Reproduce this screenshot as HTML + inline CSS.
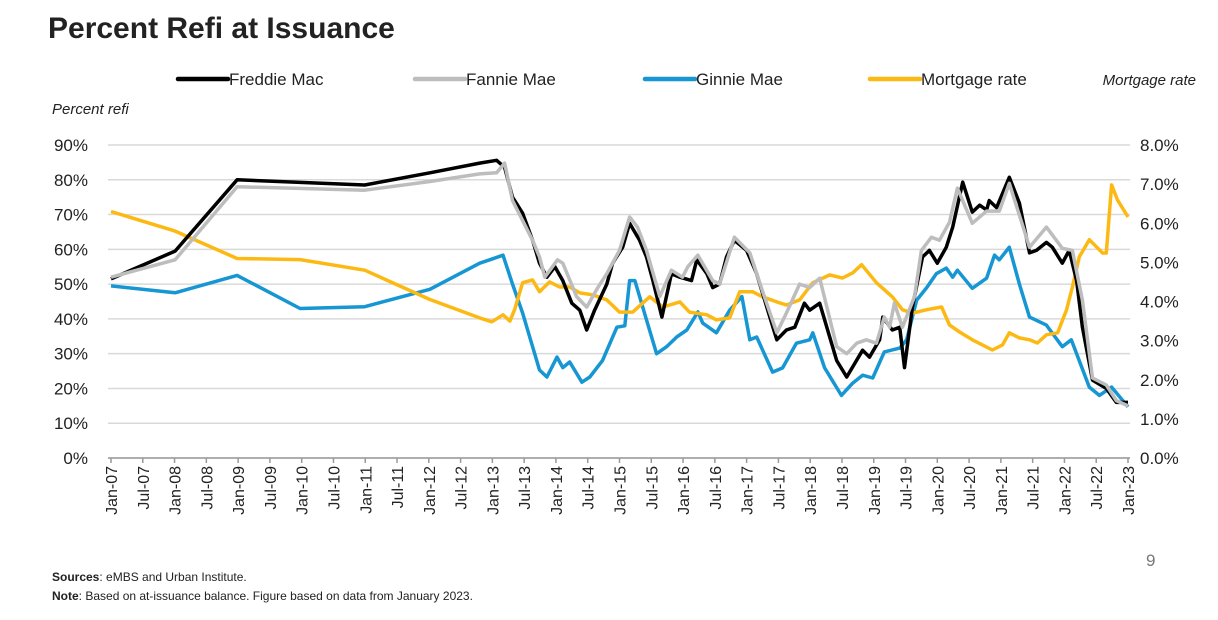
<!DOCTYPE html>
<html><head><meta charset="utf-8"><style>
body{margin:0;width:1218px;height:620px;background:#fff;font-family:"Liberation Sans",sans-serif;color:#222;overflow:hidden;position:relative}
.t{position:absolute;white-space:nowrap}
</style></head><body>
<div class="t" style="left:48px;top:12px;font-size:30px;font-weight:bold;">Percent Refi at Issuance</div>
<svg id="c" width="1218" height="620" style="position:absolute;left:0;top:0"></svg>
<div class="t" style="left:1146px;top:551px;font-size:17px;color:#777">9</div>
<div class="t" style="left:52px;top:570px;font-size:12px"><b>Sources</b>: eMBS and Urban Institute.</div>
<div class="t" style="left:52px;top:589px;font-size:12px"><b>Note</b>: Based on at-issuance balance. Figure based on data from January 2023.</div>
<script>
const xLabels=["Jan-07","Jul-07","Jan-08","Jul-08","Jan-09","Jul-09","Jan-10","Jul-10","Jan-11","Jul-11","Jan-12","Jul-12","Jan-13","Jul-13","Jan-14","Jul-14","Jan-15","Jul-15","Jan-16","Jul-16","Jan-17","Jul-17","Jan-18","Jul-18","Jan-19","Jul-19","Jan-20","Jul-20","Jan-21","Jul-21","Jan-22","Jul-22","Jan-23"];
const leftTicks=[0,10,20,30,40,50,60,70,80,90];
const rightTicks=[0,1,2,3,4,5,6,7,8];
// months since Jan-07
const freddieM=[0,12.1,23.8,47.9,60.2,69.6,72.8,74.3,75.8,77.7,79.6,80.9,82.3,83.8,85.3,87,88.5,89.8,91.3,93.6,94.7,96.6,97.9,99.8,101.1,102.3,104,105.8,107.4,109.6,110.6,112.5,113.6,114.9,116.2,117.7,120,121.9,123.8,125.7,127.5,129.1,130.9,131.9,133.8,137,138.9,141.9,143.2,145.1,145.7,147.5,148.9,149.8,151.3,153.2,154.5,156,157.7,158.9,160.8,162.6,164,165.3,165.8,167.2,169.6,171.5,173.4,174.7,176.6,177.7,179.6,180.9,182.3,183.4,185.3,187.9,189.8,192];
const freddieV=[51.5,59.5,80,78.5,82,84.8,85.6,83.6,75,70.4,62.6,56,52,55,51,44.5,42.5,36.8,42.5,50,56,60.6,67.5,62.6,57.8,51,40.5,53,52,51,57,53,49,50,57.8,62.6,59.7,53,43.4,34,36.8,37.6,44.5,42.5,44.5,28,23.3,31,29,34,40.5,36.8,37.6,26,43.4,57.8,59.7,56,60.6,66.4,79.3,70.7,72.7,71.3,74,72,80.7,73.3,59,59.7,62,60.6,56,59.7,51,37.6,22.4,20,16,16];
const fannieM=[0,12.1,23.8,47.9,60.2,69.6,72.8,74.3,75.8,79.6,80.9,81.9,84.3,85.3,87.9,89.8,91.9,93.6,96,97.9,99.4,101.1,103.6,105.8,107.9,108.9,110.8,113.6,114.9,117.7,120.6,123,125.7,127.5,130,131.9,133.8,137,138.9,140.8,142.6,144.5,146,147,147.9,149.4,151.7,153,154.9,156.4,158.3,159.8,162.6,165.3,167.7,169.6,173.4,176.6,179.6,181.5,183.4,185.3,187.9,189.8,192];
const fannieV=[52,57,78,77,79.5,81.7,82,84.8,74,62.6,57.8,52,57,56,46.4,43.4,49,53,59.7,69.3,66.4,59.7,46.4,54,52,55,58.3,51,50,63.5,59,48,36,41.7,50,49,51.7,32,30,33,34,33,40.5,37.6,44.5,37.6,46.4,59.7,63.5,62.6,67.8,77.6,67.5,71,71,79,60.6,66.4,60.3,59.7,45.4,23,21,16.5,15];
const ginnieM=[0,12.1,23.8,35.7,47.9,60.2,69.6,71.5,74,75.8,77.7,80.9,82.3,84.2,85.3,86.6,88.9,90.4,92.8,95.5,97,97.9,98.9,101.1,103,104.9,106.8,108.7,110.8,111.7,114.3,116.8,119.1,120.6,121.9,124.9,126.8,129.4,131.9,132.5,134.7,137.9,140,141.9,143.8,146,148.9,150.2,152.1,154,155.8,157.7,158.9,159.8,162.6,165.3,166.8,167.7,169.6,171.5,173.4,176.6,179.6,181.3,184.7,186.6,188.9,192];
const ginnieV=[49.5,47.5,52.5,43,43.5,48.5,56,57,58.3,50,41.7,25.3,23.3,29,26,27.6,21.8,23.3,28,37.6,38,51,51,39.7,30,32,34.8,36.8,42,38.8,36,42.5,46.4,34,34.8,24.7,25.9,33,34,36,26,18,21.5,23.8,23,30.5,31.6,34,45.4,49,53,54.6,52,54,48.8,51.7,58.3,57,60.6,50,40.5,38.2,32,34,20.4,18,20.4,14.7];
const rateM=[0,12.1,23.8,35.7,47.9,60.2,69.6,71.9,74,75.3,76.2,77.7,79.6,80.9,82.8,84.7,86.6,88.5,90.9,93.6,96,98.5,101.7,104.2,107.4,109.2,112.5,114.3,116.8,118.7,121.1,123,125.7,127.5,130,132.5,135.7,138.1,140,141.7,144.5,147.5,149.4,151.3,154,156.8,158.3,160.2,162.6,166.4,168.3,169.6,171.5,173.4,174.9,176.6,178.7,180.4,181.5,182.8,184.7,187.2,187.9,188.9,190,192];
const rateV=[6.3,5.8,5.1,5.07,4.8,4.05,3.58,3.48,3.66,3.5,3.79,4.48,4.55,4.25,4.5,4.37,4.37,4.22,4.17,4.04,3.73,3.73,4.12,3.86,3.99,3.73,3.66,3.53,3.58,4.25,4.25,4.12,3.99,3.91,4.04,4.48,4.68,4.6,4.73,4.94,4.48,4.12,3.79,3.7,3.79,3.86,3.4,3.22,3.02,2.76,2.89,3.2,3.07,3.02,2.94,3.15,3.2,3.79,4.37,5.14,5.58,5.24,5.24,6.98,6.6,6.16];

const svg=document.getElementById('c');const NS='http://www.w3.org/2000/svg';
const X0=111,X1=1128,YB=458,YT=145;
const x=m=>X0+(X1-X0)*m/192;
const yL=v=>YB-(YB-YT)*v/90;
const yR=v=>YB-(YB-YT)*v/8;
function mk(tag,attrs,txt){const e=document.createElementNS(NS,tag);for(const k in attrs)e.setAttribute(k,attrs[k]);if(txt!=null)e.textContent=txt;svg.appendChild(e);return e;}
leftTicks.forEach(v=>{
 const g=mk('line',{x1:108,x2:1130,y1:yL(v),y2:yL(v),stroke:'#d9d9d9','stroke-width':1.5});
 
 
 const t=mk('text',{x:88,y:yL(v)+6,'text-anchor':'end','font-size':17,fill:'#222'},v+'%');
 
 
});
rightTicks.forEach(v=>{
 const t=mk('text',{x:1140,y:yR(v)+6,'font-size':17,fill:'#222'},v.toFixed(1)+'%');
 
 
});
const ax=mk('line',{x1:108,x2:1130,y1:YB,y2:YB,stroke:'#999','stroke-width':1.5});


xLabels.forEach((l,i)=>{
 const xx=x(i*6);
 const tk=mk('line',{x1:xx,x2:xx,y1:YB,y2:YB+5,stroke:'#999','stroke-width':1.5});
 
 
 const t=mk('text',{x:0,y:0,'font-size':16,fill:'#222','text-anchor':'end',transform:`translate(${xx+6},${YB+8}) rotate(-90)`},l);
 
 
});
function series(M,V,yf,col,name){
 const d=M.map((m,i)=>(i?'L':'M')+x(m).toFixed(1)+','+yf(V[i]).toFixed(1)).join('');
 const p=mk('path',{d:d,fill:'none',stroke:col,'stroke-width':3.5,'stroke-linejoin':'round'});
 
 
}
series(ginnieM,ginnieV,yL,'#1696d2','ginnie-mae-line');
series(rateM,rateV,yR,'#fdb913','mortgage-rate-line');
series(freddieM,freddieV,yL,'#000','freddie-mac-line');
series(fannieM,fannieV,yL,'#bdbdbd','fannie-mae-line');
const leg=[['Freddie Mac','#000',178],['Fannie Mae','#bdbdbd',415],['Ginnie Mae','#1696d2',645],['Mortgage rate','#fdb913',870]];
leg.forEach(([n,c,lx])=>{
 const l=mk('line',{x1:lx,x2:lx+50,y1:79,y2:79,stroke:c,'stroke-width':4.5,'stroke-linecap':'round'});
 
 
 const t=mk('text',{x:lx+51,y:85,'font-size':17,fill:'#222'},n);
 
 
});
const rt=mk('text',{x:1196,y:85,'font-size':15,'font-style':'italic','text-anchor':'end',fill:'#222'},'Mortgage rate');


const lt=mk('text',{x:52,y:114,'font-size':15,'font-style':'italic',fill:'#222'},'Percent refi');


</script>
</body></html>
